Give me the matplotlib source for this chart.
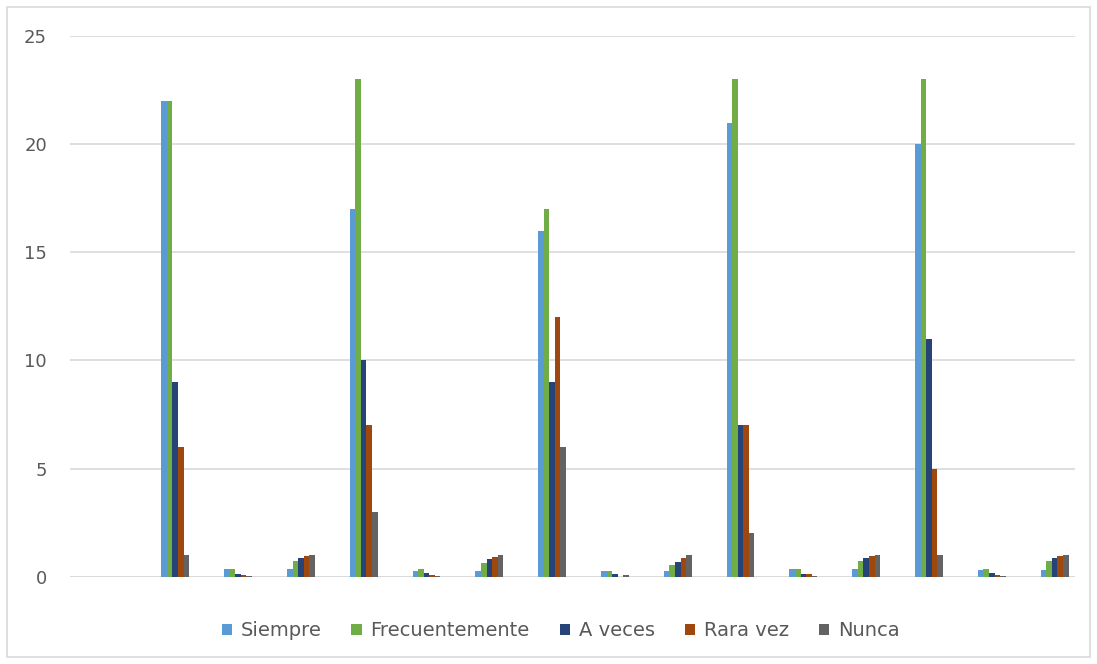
import numpy as np
import matplotlib
matplotlib.use("Agg")
import matplotlib.pyplot as plt
from matplotlib.patches import Rectangle

# Datos (16 categorias, la primera vacia)
series = ["Siempre", "Frecuentemente", "A veces", "Rara vez", "Nunca"]
colores = ["#5B9BD5", "#70AD47", "#264478", "#9E480E", "#636363"]

siempre = [0, 22, 0.34, 0.34, 17, 0.26, 0.26, 16, 0.25, 0.25, 21, 0.34, 0.34, 20, 0.31, 0.31]
frecuentemente = [0, 22, 0.35, 0.71, 23, 0.35, 0.65, 17, 0.25, 0.54, 23, 0.37, 0.72, 23, 0.36, 0.71]
a_veces = [0, 9, 0.12, 0.86, 10, 0.17, 0.82, 9, 0.12, 0.69, 7, 0.11, 0.85, 11, 0.17, 0.88]
rara_vez = [0, 6, 0.07, 0.97, 7, 0.10, 0.93, 12, 0.0, 0.88, 7, 0.11, 0.97, 5, 0.08, 0.97]
nunca = [0, 1, 0.02, 1.0, 3, 0.04, 1.0, 6, 0.06, 1.0, 2, 0.03, 1.0, 1, 0.01, 1.0]

valores = [siempre, frecuentemente, a_veces, rara_vez, nunca]
n = len(siempre)
x = np.arange(n)
ancho = 0.0885
desplaz = 0.175

fig = plt.figure(figsize=(10.97, 6.64), dpi=100)
ax = fig.add_axes([0.0638, 0.1315, 0.9162, 0.8143])

for k in range(5):
    pos = x + desplaz + (k - 2) * ancho
    ax.bar(pos, valores[k], width=ancho, color=colores[k], label=series[k], zorder=3)

ax.set_xlim(-0.5, n - 0.5)
ax.set_ylim(0, 25)
ax.set_yticks([0, 5, 10, 15, 20, 25])
ax.yaxis.grid(True, color="#d9d9d9", linewidth=1.2, zorder=0)
ax.set_xticks([])
for s in ax.spines.values():
    s.set_visible(False)
ax.axhline(0, color="#d9d9d9", linewidth=1.2, zorder=2)
ax.tick_params(axis="y", length=0, pad=16.5, labelsize=13, labelcolor="#595959")

ley = ax.legend(loc="upper center", bbox_to_anchor=(0.488, -0.05), ncol=5, frameon=False,
                fontsize=14, handlelength=0.52, handleheight=0.52, handletextpad=0.45,
                columnspacing=1.55)
for t in ley.get_texts():
    t.set_color("#595959")

fig.patches.append(Rectangle((0.006, 0.01), 0.988, 0.98, transform=fig.transFigure,
                             fill=False, edgecolor="#d9d9d9", linewidth=1.2))

fig.savefig("out.png", dpi=100)
